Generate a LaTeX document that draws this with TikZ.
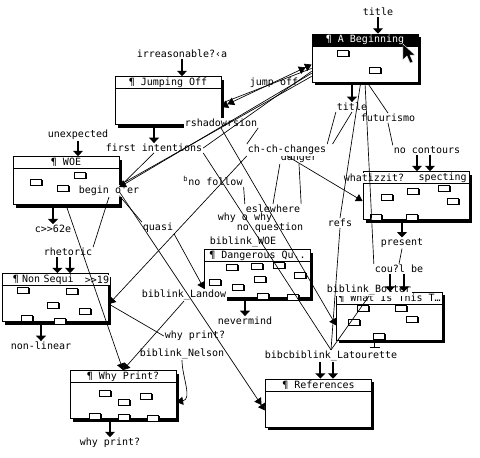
\documentclass[tikz,border=0pt]{standalone}
\usepackage{fontspec}
\newfontfamily\mac{DejaVu Sans Mono}
\usetikzlibrary{arrows.meta,shadows}
\tikzset{
  win/.style={draw, fill=white, line width=0.6pt, minimum width=79.5pt, minimum height=36pt, inner sep=0pt,
    drop shadow={shadow xshift=2.25pt, shadow yshift=-2.25pt, fill=black, opacity=1}},
  bar/.style={draw, fill=white, line width=0.6pt, minimum width=79.5pt, minimum height=9pt, inner sep=0pt,
    anchor=north, font=\mac\fontsize{7.5}{8}\selectfont},
  chip/.style={draw, fill=white, line width=0.5pt, minimum width=8pt, minimum height=4.5pt, inner sep=0pt,
    drop shadow={shadow xshift=0.9pt, shadow yshift=-0.9pt, fill=black, opacity=1}},
  lbl/.style={fill=white, inner sep=0.6pt, font=\mac\fontsize{7.5}{8}\selectfont},
  link/.style={line width=0.5pt},
  tip/.style={-{Triangle[length=5pt,width=6pt]}},
  tipp/.style={-{Triangle[length=5pt,width=6pt] Triangle[length=5pt,width=6pt]}},
  tipboth/.style={{Triangle[length=5pt,width=6pt] Triangle[length=5pt,width=6pt]}-{Triangle[length=5pt,width=6pt] Triangle[length=5pt,width=6pt]}},
  drop/.style={line width=1.5pt, -{Triangle[length=4pt,width=7.5pt]}}
}
\begin{document}
\begin{tikzpicture}[x=0.75pt, y=-0.75pt]
  \useasboundingbox (0,0) rectangle (480,458);
  % windows
  \node[win] (beg) at (365,58) {};
  \node[bar, fill=black, text=white] (begT) at (beg.north) {¶ A Beginning};
  \node[win] (jmp) at (168,100.5) {};
  \node[bar] (jmpT) at (jmp.north) {¶ Jumping Off};
  \node[win] (woe) at (66,180.5) {};
  \node[bar] (woeT) at (woe.north) {¶ WOE};
  \node[win] (nons) at (55.5,297.5) {};
  \node[bar, text width=64pt, align=left] (nonsT) at (nons.north) {¶ Non Sequi};
  \node[win] (whyb) at (123,394.5) {};
  \node[bar] (whybT) at (whyb.north) {¶ Why Print?};
  \node[win] (dang) at (257.5,273.5) {};
  \node[bar] (dangT) at (dang.north) {¶ Dangerous Qu..};
  \node[win] (spec) at (416,195.5) {};
  \node[bar, text width=76pt, align=right] (specT) at (spec.north) {specting};
  \node[win] (what) at (389.5,316) {};
  \node[bar] (whatT) at (what.north) {¶ What Is This T…};
  \node[win] (refb) at (318.5,403) {};
  \node[bar] (refbT) at (refb.north) {¶ References};
  % little text spaces
  \foreach \p in {(343,53),(375,70),
      (36,182),(63,188),(80,175),
      (23,290),(72,291),(53,305),(85,311),(27,318),(60,321),
      (105,393),(124,402),(146,396),(95,416),(124,417),(153,418),
      (232,267),(260,279),(238,287),(279,265),(300,275),(215,282),(257,266),(263,296),(293,297),
      (387,197),(413,191),(444,188),(453,201),(376,217),(412,217),
      (354,322),(412,319),(379,336),(401,308),(363,308)}
    \node[chip] at \p {};
  % cursor
  \fill[black, draw=white, line width=0.3pt] (403,44) -- (403,60) -- (407,56) -- (410,63) -- (413,62) -- (410,55) -- (415,55) -- cycle;
  % link names
  \node[lbl] (ttop) at (378,12) {title};
  \node[lbl] (irr) at (182,54) {irreasonable?‹a};
  \node[lbl] (unexp) at (78,135) {unexpected};
  \node[lbl] (jumpl) at (274,83) {jump off};
  \node[lbl] (rshad) at (221,123) {rshadowrsion};
  \node[lbl] (first) at (154,148) {first intentions};
  \node[lbl] (title2) at (352,107) {title};
  \node[lbl] (futur) at (388,118) {futurismo};
  \node[lbl] (danger) at (299,158) {danger};
  \node[lbl] (chch) at (287,150) {ch-ch-changes};
  \node[lbl] (nocont) at (427,150) {no contours};
  \node[lbl] (nofollow) at (213,181) {\textsuperscript{b}no follow};
  \node[lbl] (begin) at (109,191) {begin o'er};
  \node[lbl] (whatiz) at (374,178) {whatizzit?};
  \node[lbl] (c62) at (53,229) {c>>62e};
  \node[lbl] (eslew) at (273,209) {eslewhere};
  \node[lbl] (noq) at (270,228) {no question};
  \node[lbl] (whyo) at (245,218) {why o why};
  \node[lbl] (refs) at (340,223) {refs};
  \node[lbl] (quasi) at (158,228) {quasi};
  \node[lbl] (bwoe) at (243,242) {biblink\_WOE};
  \node[lbl] (present) at (402,243) {present};
  \node[lbl] (rhet) at (68,252) {rhetoric};
  \node[lbl] (n19) at (97,280) {>>19};
  \node[lbl] (could) at (399,269) {cou?l be};
  \node[lbl] (botter) at (369,290) {biblink\_Botter};
  \node[lbl] (landow) at (184,295) {biblink\_Landow};
  \node[lbl] (neverm) at (245,321) {nevermind};
  \node[lbl] (whyp) at (195,336) {why print?};
  \node[lbl] (nonlin) at (41,346) {non-linear};
  \node[lbl] (nelson) at (182,354) {biblink\_Nelson};
  \node[lbl] (latour) at (331,356) {bibcbiblink\_Latourette};
  \node[lbl] (whyp2) at (110,443) {why print?};
  % links
  \draw[link, tipboth] (jmp.-7) -- (beg.187);
  \draw[link] (jmp.-3) -- (beg.191);
  \draw[link, tip] (beg.196) -- (woe.-7);
  \draw[link] (beg.199) -- (woe.-5);
  \draw[link] (first.east) -- (beg.194);
  \draw[link] (first.south) -- (woe.-7);
  \draw[link, tipp] (woe.-12) -- (refb.188);
  \draw[link] (woe.-16) -- (quasi.north west);
  \draw[link, tip] (quasi.south east) -- (dang.196);
  \draw[link, tip] (woe.south) -- (whyb.north);
  \draw[link] (begin.south) -- (rhet.north east);
  \draw[link, tip] (chch.south west) -- (nons.-7);
  \draw[link] (whyp.west) -- (nons.-7);
  \draw[link, tip] (landow.south) -- (whyb.north);
  \draw[link, tip] (nelson.south) to[out=-90, in=10] (whyb.-8);
  \draw[link] (first.south east) -- (latour.north);
  \draw[link] (nofollow.south east) -- (eslew.north west);
  \draw[link, tip] (rshad.south) -- (what.190);
  \draw[link] (rshad.south east) -- (chch.north west);
  \draw[link] (beg.-100) -- (refs.north);
  \draw[link] (refs.south) -- (latour.north);
  \draw[link] (beg.south) -- (could.north west);
  \draw[link] (beg.-85) -- (futur.north);
  \draw[link] (futur.south) -- (nocont.north west);
  \draw[link] (title2.south west) -- (chch.north east);
  \draw[link] (title2.south) -- ([xshift=4pt]chch.north east);
  \draw[link, tip] (chch.south) -- (spec.186);
  \draw[link] (danger.south west) -- (eslew.north);
  \draw[link] (danger.south) -- (eslew.north east);
  \draw[link] (present.south) -- (could.north);
  \draw[link] (botter.south) -- (latour.north);
  % arrows onto the windows
  \draw[drop] (ttop.south) -- (ttop.south |- beg.north);
  \draw[drop] (irr.south) -- (irr.south |- jmp.north);
  \draw[drop] (unexp.south) -- (unexp.south |- woe.north);
  \draw[drop] (first.north |- jmp.south) -- (first.north);
  \draw[drop] (c62.north |- woe.south) -- (c62.north);
  \draw[drop] ([xshift=-8pt]rhet.south) -- ([xshift=-8pt]rhet.south |- nons.north);
  \draw[drop] ([xshift=1.5pt]rhet.south) -- ([xshift=1.5pt]rhet.south |- nons.north);
  \draw[drop] (nonlin.north |- nons.south) -- (nonlin.north);
  \draw[drop] (whyp2.north |- whyb.south) -- (whyp2.north);
  \draw[drop] (neverm.north |- dang.south) -- (neverm.north);
  \draw[drop] (title2.north |- beg.south) -- (title2.north);
  \draw[drop] ([xshift=-7.5pt]nocont.south) -- ([xshift=-7.5pt]nocont.south |- spec.north);
  \draw[drop] ([xshift=2.25pt]nocont.south) -- ([xshift=2.25pt]nocont.south |- spec.north);
  \draw[drop] (present.north |- spec.south) -- (present.north);
  \draw[drop] ([xshift=-6.75pt]could.south) -- ([xshift=-6.75pt]could.south |- what.north);
  \draw[drop] ([xshift=3.75pt]could.south) -- ([xshift=3.75pt]could.south |- what.north);
  \draw[drop] ([xshift=-8pt]latour.south) -- ([xshift=-8pt]latour.south |- refb.north);
  \draw[drop] ([xshift=1.5pt]latour.south) -- ([xshift=1.5pt]latour.south |- refb.north);
  \draw[line width=0.8pt] ([xshift=-11pt]what.south) -- ++(0,7) ++(-5,0) -- ++(10,0);
\end{tikzpicture}
\end{document}
